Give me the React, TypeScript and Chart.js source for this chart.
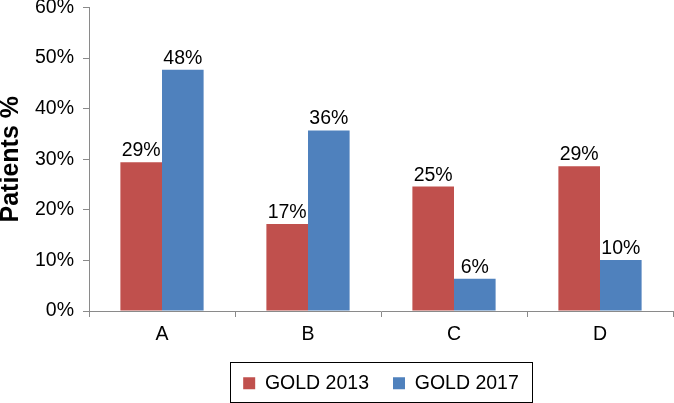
import React, { useEffect, useRef } from "react";
import { Chart, registerables } from "chart.js";

Chart.register(...registerables);

const categories = ["A", "B", "C", "D"];
const gold2013 = [29.4, 17.2, 24.6, 28.6];
const gold2017 = [47.7, 35.7, 6.4, 10.1];
const seriesNames = ["GOLD 2013", "GOLD 2017"];
const yTicksMax = 60;
const yTickStep = 10;

const FONT = "'Liberation Sans', Arial, sans-serif";
const AXIS = "#8a8a8a";

const dataLabelPlugin = {
  id: "dataLabels",
  afterDatasetsDraw(chart: any) {
    const ctx = chart.ctx;
    ctx.save();
    ctx.font = `19.5px ${FONT}`;
    ctx.fillStyle = "#000";
    ctx.textAlign = "center";
    ctx.textBaseline = "alphabetic";
    chart.data.datasets.forEach((ds: any, di: number) => {
      const meta = chart.getDatasetMeta(di);
      meta.data.forEach((bar: any, i: number) => {
        const v = ds.data[i];
        ctx.fillText(Math.round(v) + "%", bar.x, bar.y - 6);
      });
    });
    ctx.restore();
  },
};

const legendBorderPlugin = {
  id: "legendBorder",
  afterDraw(chart: any) {
    const lg = chart.legend;
    if (!lg || !lg.legendHitBoxes || !lg.legendHitBoxes.length) return;
    const hb = lg.legendHitBoxes;
    const first = hb[0];
    const last = hb[hb.length - 1];
    const x0 = Math.round(first.left - 13) + 0.5;
    const x1 = Math.round(last.left + last.width + 13) + 0.5;
    const y0 = Math.round(first.top - 11.5) + 0.5;
    const y1 = Math.min(chart.height - 0.5, Math.round(first.top + first.height + 9) + 0.5);
    const ctx = chart.ctx;
    ctx.save();
    ctx.strokeStyle = "#000";
    ctx.lineWidth = 1;
    ctx.strokeRect(x0, y0, x1 - x0, y1 - y0);
    ctx.restore();
  },
};

export default function App() {
  const ref = useRef<HTMLCanvasElement | null>(null);
  useEffect(() => {
    if (!ref.current) return;
    const chart = new Chart(ref.current, {
      type: "bar",
      data: {
        labels: categories,
        datasets: [
          {
            label: seriesNames[0],
            data: gold2013,
            backgroundColor: "#C0504D",
            borderWidth: 0,
            categoryPercentage: 0.57,
            barPercentage: 1,
          },
          {
            label: seriesNames[1],
            data: gold2017,
            backgroundColor: "#4F81BD",
            borderWidth: 0,
            categoryPercentage: 0.57,
            barPercentage: 1,
          },
        ],
      },
      options: {
        responsive: false,
        animation: false,
        devicePixelRatio: 1,
        layout: { padding: { left: 0, right: 1, top: 0, bottom: 0 } },
        plugins: {
          tooltip: { enabled: false },
          legend: {
            position: "bottom",
            fullSize: false,
            labels: {
              font: { family: FONT, size: 19.5 },
              color: "#000",
              boxWidth: 12,
              boxHeight: 12,
              padding: 24,
            },
          },
        },
        scales: {
          x: {
            grid: {
              display: true,
              drawOnChartArea: false,
              drawTicks: true,
              tickLength: 6,
              color: AXIS,
              offset: true,
            },
            border: { display: true, color: AXIS, width: 1 },
            ticks: {
              font: { family: FONT, size: 19.5 },
              color: "#000",
              padding: 6,
            },
            afterFit(scale: any) {
              scale.height = 38.5;
            },
          },
          y: {
            min: 0,
            max: yTicksMax,
            grid: {
              display: true,
              drawOnChartArea: false,
              drawTicks: true,
              tickLength: 6,
              color: AXIS,
            },
            border: { display: true, color: AXIS, width: 1 },
            ticks: {
              stepSize: yTickStep,
              font: { family: FONT, size: 19.5 },
              color: "#000",
              padding: 9,
              callback: (v: any) => v + "%",
            },
            title: {
              display: true,
              text: "Patients %",
              color: "#000",
              font: { family: FONT, size: 25, weight: "bold", lineHeight: 0.9 },
              padding: { top: 0, bottom: 0 },
            },
            afterFit(scale: any) {
              scale.width = 89;
              scale.paddingTop = 7.5;
              scale.paddingBottom = 0;
            },
          },
        },
      },
      plugins: [dataLabelPlugin, legendBorderPlugin],
    } as any);
    return () => chart.destroy();
  }, []);
  return (
    <div style={{ position: "fixed", left: 0, top: 0, width: 674, height: 403, background: "#fff" }}>
      <canvas ref={ref} width={674} height={403} style={{ display: "block" }} />
    </div>
  );
}
